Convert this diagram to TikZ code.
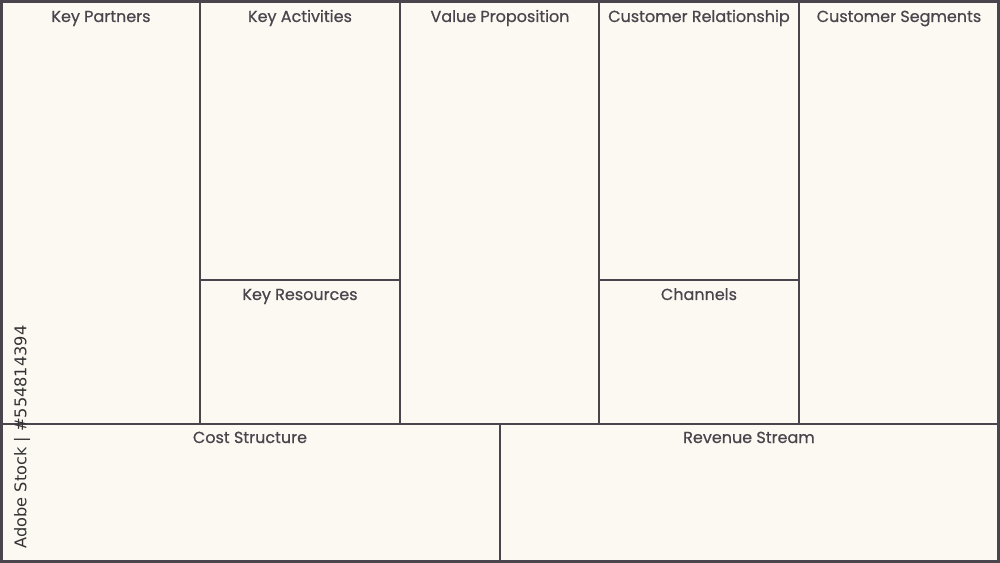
\documentclass[tikz,border=0pt]{standalone}
\usepackage{fontspec}
\setmainfont{Poppins}[RawFeature={embolden=0.6}]
\newfontfamily\stockfont{DejaVu Sans}
\usepackage{tkz-euclide}
\usepackage{tikz}
\usetikzlibrary{positioning}
\definecolor{paper}{HTML}{FCF8F2}
\definecolor{penColor}{HTML}{4A454D}
\colorlet{textColor}{penColor}
\tikzset{title/.style={text=textColor,font=\fontsize{9.1}{10}\selectfont,inner sep=0pt,anchor=base}}

\begin{document}
\begin{tikzpicture}[x=0.02cm,y=-0.02cm]
    \fill[paper] (0,0) rectangle (1000,563);
    \useasboundingbox (0,0) rectangle (1000,563);

    \tkzDefPoint(1.5,1.5){A1}
    \tkzDefPoint(998.5,1.5){A2}
    \tkzDefPoint(998.5,561.5){A3}
    \tkzDefPoint(1.5,561.5){A4}
    \draw[penColor,line width=1.4pt] (A1)--(A2)--(A3)--(A4)--cycle;

    % columns
    \tkzDefPoint(200,0){B1}
    \tkzDefPoint(200,424){B2}
    \tkzDefPoint(400,0){C1}
    \tkzDefPoint(400,424){C2}
    \tkzDefPoint(599,0){D1}
    \tkzDefPoint(599,424){D2}
    \tkzDefPoint(799,0){E1}
    \tkzDefPoint(799,424){E2}
    \draw[penColor,line width=1.4pt] (B1)--(B2) (C1)--(C2) (D1)--(D2) (E1)--(E2);

    % rows
    \tkzDefPoint(200,280){F1}
    \tkzDefPoint(400,280){F2}
    \tkzDefPoint(599,280){G1}
    \tkzDefPoint(799,280){G2}
    \tkzDefPoint(0,424){H1}
    \tkzDefPoint(1000,424){H2}
    \tkzDefPoint(500,424){I1}
    \tkzDefPoint(500,563){I2}
    \draw[penColor,line width=1.4pt] (F1)--(F2) (G1)--(G2) (H1)--(H2) (I1)--(I2);

    \node[title] (partners) at (101,22) {Key Partners};
    \node[title] (activities) at (300,22) {Key Activities};
    \node[title] (value) at (500,22) {Value Proposition};
    \node[title] (relation) at (699,22) {Customer Relationship};
    \node[title] (segments) at (899,22) {Customer Segments};
    \node[title] (resources) at (300,300) {Key Resources};
    \node[title] (channels) at (699,300) {Channels};
    \node[title] (cost) at (250,443) {Cost Structure};
    \node[title] (revenue) at (749,443) {Revenue Stream};

    \node[rotate=90,text=black!80,inner sep=0pt,font=\stockfont\fontsize{9.2}{10}\selectfont] (stock) at (22,437) {Adobe Stock | \#554814394};
  \end{tikzpicture}
\end{document}
